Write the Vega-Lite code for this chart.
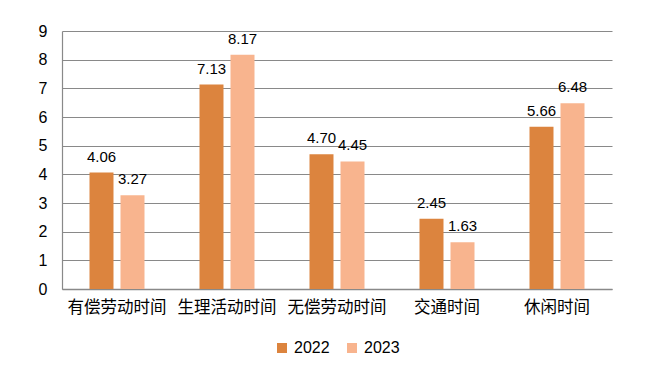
{
  "$schema": "https://vega.github.io/schema/vega-lite/v6.json",
  "width": 550,
  "height": 258,
  "autosize": {"type": "none"},
  "padding": {"left": 62, "top": 31, "right": 44, "bottom": 103},
  "background": "white",
  "config": {
    "view": {"stroke": null},
    "font": "Noto Sans CJK SC"
  },
  "data": {
    "values": [
      {"category": "有偿劳动时间", "year": "2022", "value": 4.06},
      {"category": "有偿劳动时间", "year": "2023", "value": 3.27},
      {"category": "生理活动时间", "year": "2022", "value": 7.13},
      {"category": "生理活动时间", "year": "2023", "value": 8.17},
      {"category": "无偿劳动时间", "year": "2022", "value": 4.70},
      {"category": "无偿劳动时间", "year": "2023", "value": 4.45},
      {"category": "交通时间", "year": "2022", "value": 2.45},
      {"category": "交通时间", "year": "2023", "value": 1.63},
      {"category": "休闲时间", "year": "2022", "value": 5.66},
      {"category": "休闲时间", "year": "2023", "value": 6.48}
    ]
  },
  "encoding": {
    "x": {
      "field": "category",
      "type": "nominal",
      "sort": null,
      "scale": {"paddingInner": 0, "paddingOuter": 0},
      "axis": {
        "title": null,
        "labelAngle": 0,
        "labelFontSize": 16.5,
        "labelColor": "#000000",
        "labelPadding": 10,
        "ticks": false,
        "domainColor": "#898989",
        "domainWidth": 1.3
      }
    },
    "xOffset": {
      "field": "year",
      "type": "nominal",
      "scale": {"paddingInner": 0.226, "paddingOuter": 0.887}
    },
    "y": {
      "field": "value",
      "type": "quantitative",
      "scale": {"domain": [0, 9], "nice": false},
      "axis": {
        "title": null,
        "values": [0, 1, 2, 3, 4, 5, 6, 7, 8, 9],
        "labelOverlap": false,
        "ticks": false,
        "labelFont": "Liberation Sans",
        "labelFontSize": 16,
        "labelColor": "#000000",
        "labelPadding": 15,
        "gridColor": "#898989",
        "gridWidth": 1.2,
        "domainColor": "#898989",
        "domainWidth": 1.2
      }
    }
  },
  "layer": [
    {
      "mark": {"type": "bar"},
      "encoding": {
        "color": {
          "field": "year",
          "type": "nominal",
          "scale": {"domain": ["2022", "2023"], "range": ["#DC843E", "#F8B48E"]},
          "legend": {
            "title": null,
            "orient": "none",
            "legendX": 212,
            "legendY": 309,
            "direction": "horizontal",
            "symbolType": "square",
            "symbolSize": 100,
            "symbolStrokeWidth": 0,
            "labelFont": "Liberation Sans",
            "labelFontSize": 16,
            "labelColor": "#000000",
            "columnPadding": 14
          }
        }
      }
    },
    {
      "mark": {"type": "text", "baseline": "bottom", "dy": -8, "font": "Liberation Sans", "fontSize": 15, "color": "#000000"},
      "encoding": {
        "text": {"field": "value", "type": "quantitative", "format": ".2f"}
      }
    }
  ]
}
